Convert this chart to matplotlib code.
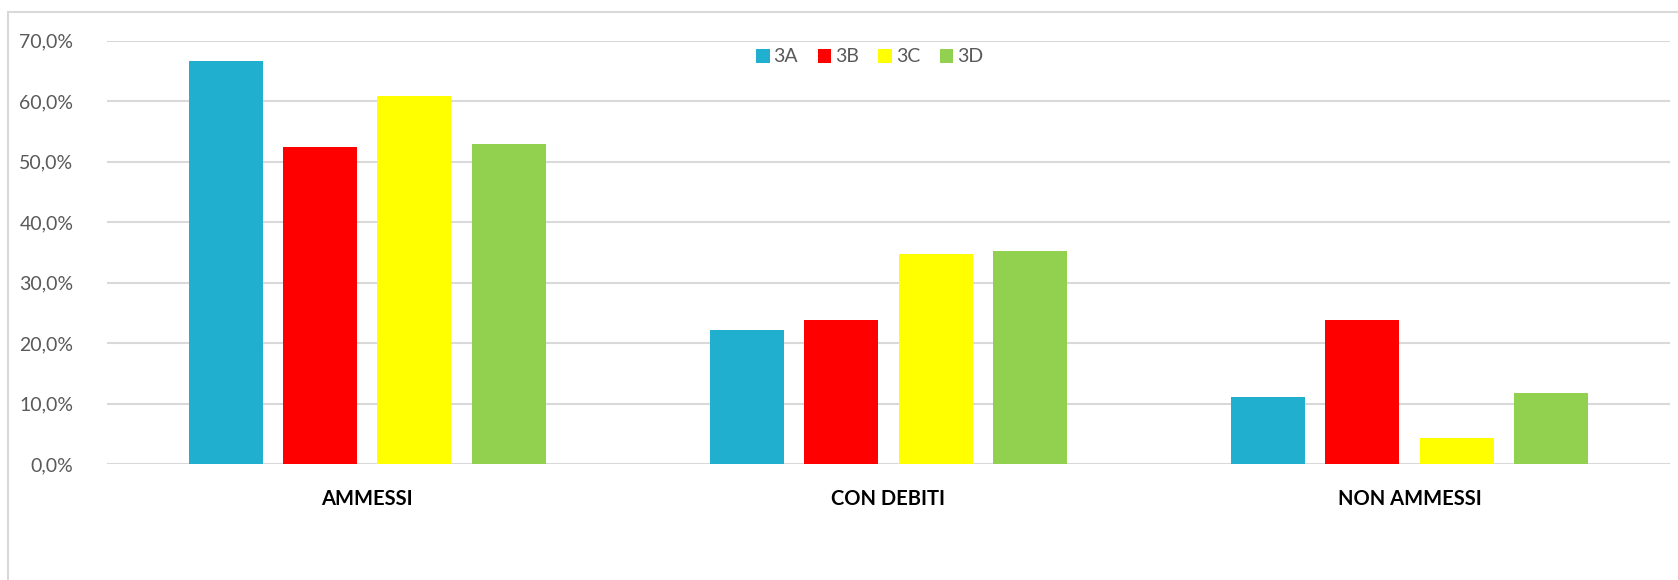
import matplotlib
matplotlib.use("Agg")
import matplotlib.pyplot as plt
from matplotlib.patches import Rectangle
from matplotlib.ticker import FuncFormatter
import numpy as np

categories = ["AMMESSI", "CON DEBITI", "NON AMMESSI"]
series_names = ["3A", "3B", "3C", "3D"]
v_3A = [66.7, 22.2, 11.1]
v_3B = [52.4, 23.8, 23.8]
v_3C = [60.9, 34.8, 4.3]
v_3D = [52.9, 35.3, 11.8]
series_values = [v_3A, v_3B, v_3C, v_3D]
colors = ["#20AFCF", "#FF0000", "#FFFF00", "#92D050"]
yticks = [0, 10, 20, 30, 40, 50, 60, 70]

plt.rcParams['font.family'] = ['Lato', 'DejaVu Sans']

W, H = 1678, 580
fig = plt.figure(figsize=(W / 100, H / 100), dpi=100)
fig.patch.set_facecolor("white")

# chart area border (left + top visible)
fig.patches.append(Rectangle((7.5 / W, -0.1), 1.2, 1 - 12 / H + 0.1,
                             transform=fig.transFigure, fill=False,
                             edgecolor="#D9D9D9", linewidth=1.5, zorder=0))

left = 106.7 / W
right = 1670 / W
bottom = 1 - 464.3 / H
top = 1 - 40.7 / H
ax = fig.add_axes([left, bottom, right - left, top - bottom])

x = np.arange(len(categories))
bw = 0.142
step = 0.181
for i, (name, vals, c) in enumerate(zip(series_names, series_values, colors)):
    ax.bar(x + (i - 1.5) * step, vals, width=bw, color=c, label=name, zorder=3)

ax.set_xlim(-0.5, len(categories) - 0.5)
ax.set_ylim(0, 70)
ax.set_yticks(yticks)
ax.yaxis.set_major_formatter(FuncFormatter(lambda v, p: f"{v:.1f}".replace(".", ",") + "%"))
ax.grid(axis="y", color="#D9D9D9", linewidth=1.5, zorder=0)
ax.set_axisbelow(True)
for s in ax.spines.values():
    s.set_visible(False)
ax.tick_params(axis="y", length=0, pad=24, labelsize=14, labelcolor="#595959")
ax.tick_params(axis="x", length=0, pad=18)
ax.set_xticks(x)
ax.set_xticklabels(categories, fontsize=14.5, fontweight="bold", color="black")

leg = ax.legend(loc="center", bbox_to_anchor=(0.488, 1 - (57 - 40.7) / (464.3 - 40.7)),
                ncol=4, frameon=False, fontsize=14, handlelength=0.7, handleheight=0.7,
                handletextpad=0.2, columnspacing=1.0, borderaxespad=0)
for t in leg.get_texts():
    t.set_color("#595959")

fig.savefig("out.png", dpi=100, facecolor="white")
